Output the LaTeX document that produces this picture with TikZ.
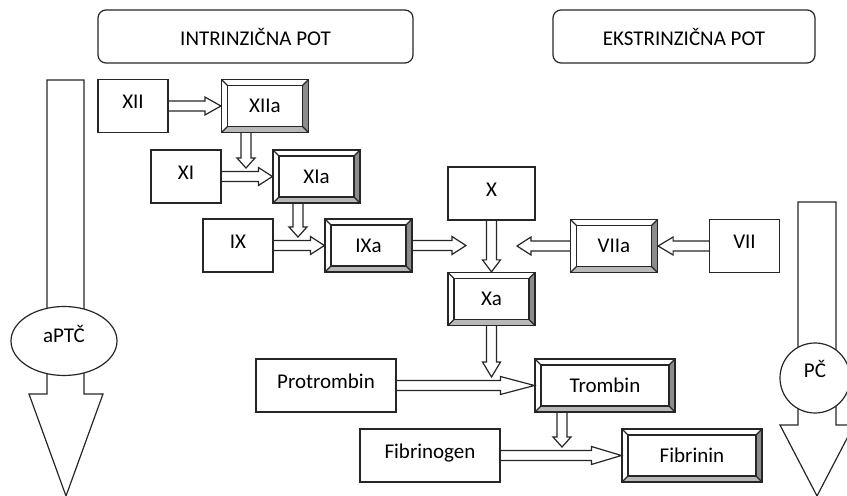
\documentclass[tikz,border=0pt]{standalone}
\usepackage{fontspec}
\setmainfont{Carlito}
\usetikzlibrary{calc,shapes.geometric}

% hollow block arrow: [head length]{from}{to}
\newcommand{\blockarrow}[3][7pt]{%
  \coordinate (ba) at (#2);
  \coordinate (bb) at (#3);
  \coordinate (bh) at ($(bb)!#1!(ba)$);
  \draw[line] ($(ba)!2.5pt!90:(bb)$) -- ($(bh)!2.5pt!90:(bb)$) -- ($(bh)!4.5pt!90:(bb)$) -- (bb)
    -- ($(bh)!4.5pt!-90:(bb)$) -- ($(bh)!2.5pt!-90:(bb)$) -- ($(ba)!2.5pt!-90:(bb)$);
}

\tikzset{
  line/.style={draw=black!85, line width=0.6pt, line join=miter},
  txt/.style={font=\fontsize{10.5}{12}\selectfont},
  box/.style={line, txt, minimum width=35pt, minimum height=26.5pt, inner sep=0pt, text height=7pt, text depth=4pt},
  longbox/.style={box, minimum width=70pt},
  bevel/.style={box, minimum width=43.5pt, text depth=0pt, path picture={
    \fill[black!45] (path picture bounding box.north east) -- (path picture bounding box.south east)
      -- ([shift={(-3pt,3pt)}]path picture bounding box.south east) -- ([shift={(-3pt,-3pt)}]path picture bounding box.north east) -- cycle;
    \fill[black!28] (path picture bounding box.south west) -- (path picture bounding box.south east)
      -- ([shift={(-3pt,3pt)}]path picture bounding box.south east) -- ([shift={(3pt,3pt)}]path picture bounding box.south west) -- cycle;
    \draw[line] ([shift={(3pt,-3pt)}]path picture bounding box.north west) rectangle ([shift={(-3pt,3pt)}]path picture bounding box.south east);
    \draw[line] (path picture bounding box.north west) -- ++(3pt,-3pt)
      (path picture bounding box.north east) -- ++(-3pt,-3pt)
      (path picture bounding box.south west) -- ++(3pt,3pt)
      (path picture bounding box.south east) -- ++(-3pt,3pt);
  }},
  longbevel/.style={bevel, minimum width=70pt},
  head/.style={line, txt, rounded corners=4pt, minimum height=26.5pt, inner sep=0pt}
}

\begin{document}
\begin{tikzpicture}[x=0.5pt, y=-0.5pt]
  \useasboundingbox (0,0) rectangle (847,496);

  % headings
  \node[head, minimum width=157.5pt] (intr) at (255.5,36.5) {INTRINZIČNA POT};
  \node[head, minimum width=131pt] (ekstr) at (684,36.5) {EKSTRINZIČNA POT};

  % big arrows
  \draw[line] (47,80) -- (47,394) -- (29,394) -- (66,496) -- (103,394) -- (84,394) -- (84,80) -- cycle; % aPTC
  \node[line, txt, ellipse, fill=white, minimum width=53pt, minimum height=34.5pt, inner sep=0pt, text height=7pt, text depth=5pt] (aptc) at (64,341) {aPTČ};
  \draw[line] (798,202) -- (798,425) -- (780,425) -- (817,496) -- (854,425) -- (836,425) -- (836,202) -- cycle; % PC
  \node[line, txt, circle, fill=white, minimum size=35pt, inner sep=0pt, text height=7pt, text depth=7pt] (pc) at (815,378) {PČ};

  % factors
  \node[box] (xii) at (133,106) {XII};
  \node[bevel] (xiia) at (265,106) {XIIa};
  \node[box] (xi) at (186,176.5) {XI};
  \node[bevel] (xia) at (316.5,176.5) {XIa};
  \node[box] (ix) at (238,245.5) {IX};
  \node[bevel] (ixa) at (368.5,245.5) {IXa};
  \node[box, minimum width=43.5pt] (x) at (491.5,193.5) {X};
  \node[bevel] (xa) at (491.5,299) {Xa};
  \node[bevel] (viia) at (614,246) {VIIa};
  \node[box] (vii) at (744.5,246) {VII};
  \node[longbox] (protr) at (326,385.5) {Protrombin};
  \node[longbevel] (tromb) at (605,385.5) {Trombin};
  \node[longbox] (fibrg) at (430,455.5) {Fibrinogen};
  \node[longbevel] (fibrn) at (692,455.5) {Fibrinin};

  % free arrow ends
  \coordinate (d1) at (246,168);
  \coordinate (d2) at (298,237);
  \coordinate (d3) at (466,245.5);
  \coordinate (d4) at (517,246);
  \coordinate (d5) at (491.5,377);
  \coordinate (d6) at (562,447);

  % arrows
  \blockarrow[8pt]{xii.east}{xiia.west}
  \blockarrow[5pt]{xiia.south -| d1}{d1}
  \blockarrow[7pt]{xi.east}{xia.west}
  \blockarrow[5pt]{xia.south -| d2}{d2}
  \blockarrow[7pt]{ix.east}{ixa.west}
  \blockarrow[7pt]{ixa.east}{d3}
  \blockarrow[6pt]{x.south}{xa.north}
  \blockarrow[7pt]{viia.west}{d4}
  \blockarrow[7.5pt]{vii.west}{viia.east}
  \blockarrow[7.5pt]{xa.south}{d5}
  \blockarrow[17pt]{protr.east}{tromb.west}
  \blockarrow[5pt]{tromb.south -| d6}{d6}
  \blockarrow[15pt]{fibrg.east}{fibrn.west}
\end{tikzpicture}
\end{document}
